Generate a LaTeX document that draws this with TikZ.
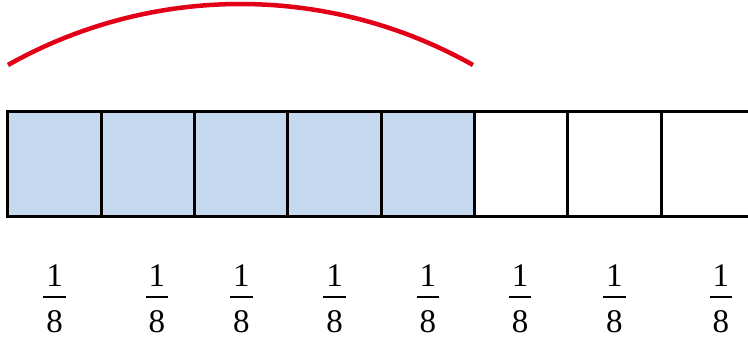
\documentclass[tikz,border=0pt]{standalone}
\usepackage{fontspec}
\setmainfont{Liberation Serif}
\usetikzlibrary{matrix,positioning}

\definecolor{partblue}{RGB}{197,216,238}
\definecolor{arcred}{RGB}{227,0,22}

% fraction set as a small tabular, in text font
\newcommand{\eighth}{%
  {\setlength{\arrayrulewidth}{2pt}\setlength{\tabcolsep}{3pt}%
   \renewcommand{\arraystretch}{0}%
   \begin{tabular}{c}1\rule[-9pt]{0pt}{0pt}\\\hline\rule{0pt}{35pt}8\end{tabular}}}

\begin{document}
\begin{tikzpicture}[
    x=1pt, y=1pt,
    font=\fontsize{33}{40}\selectfont,
    cell/.style={draw, line width=3pt, minimum width=93.3pt, minimum height=105pt,
                 inner sep=0pt, outer sep=1.5pt},
    partA/.style={cell, fill=partblue},   % shaded eighths
    partB/.style={cell, fill=white},      % empty eighths
    frac/.style={inner sep=0pt, anchor=north},
    spanarc/.style={draw=arcred, line width=4.5pt},
    every matrix/.style={ampersand replacement=\&}
  ]
  \useasboundingbox (0,0) rectangle (748,344);

% --- Strip of eight parts, first five shaded ---
    \matrix (cells) [
      matrix of nodes,
      inner sep=0pt, outer sep=0pt,
      column sep=-3pt,
      anchor=north west
    ] at (6.5,233.5) {
      \node[partA] (p1) {}; \& \node[partA] (p2) {}; \& \node[partA] (p3) {}; \& \node[partA] (p4) {}; \&
      \node[partA] (p5) {}; \& \node[partB] (p6) {}; \& \node[partB] (p7) {}; \& \node[partB] (p8) {}; \\
    };

% --- Fractions under the parts ---
    \foreach \i/\dx in {1/0,2/9,3/0,4/0,5/0,6/-1,7/0,8/13}
      \node[frac] (f\i) at ([xshift=\dx pt, yshift=-46.5pt]p\i.south) {\eighth};

% --- Arc over the shaded parts ---
    \coordinate (arcL) at (8,279);
    \coordinate (arcR) at (473,279);
    \draw[spanarc] (arcL) arc[start angle=119.4, end angle=60.6, radius=473.6];

\end{tikzpicture}
\end{document}
